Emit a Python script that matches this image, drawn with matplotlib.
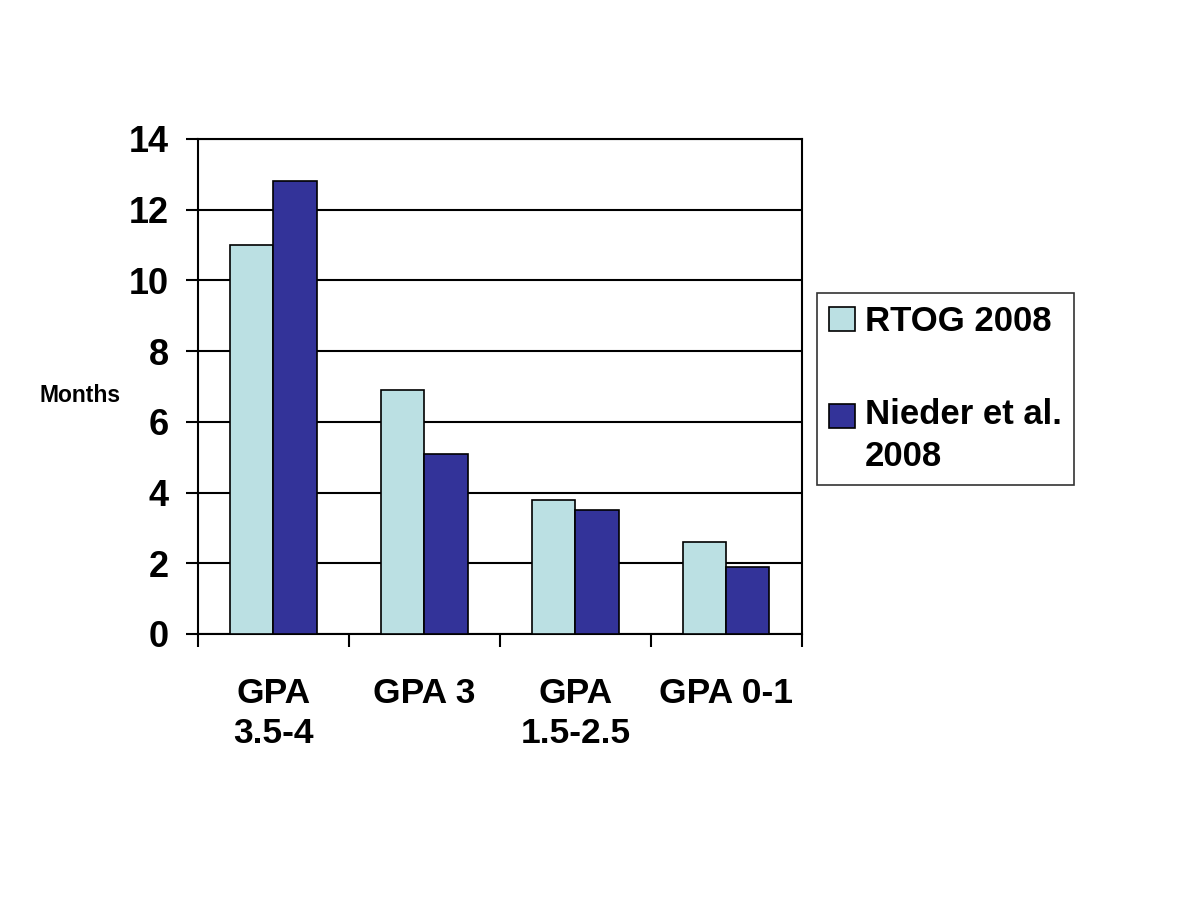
import numpy as np
import matplotlib
matplotlib.use("Agg")
import matplotlib.pyplot as plt
from matplotlib.legend_handler import HandlerPatch
from matplotlib.patches import Rectangle

plt.rcParams['font.family'] = ['Liberation Sans', 'DejaVu Sans']
plt.rcParams['font.weight'] = 'bold'

categories = ['GPA\n3.5-4', 'GPA 3', 'GPA\n1.5-2.5', 'GPA 0-1']
rtog = [11.0, 6.9, 3.8, 2.6]
nieder = [12.8, 5.1, 3.5, 1.9]
series_names = ['RTOG 2008', 'Nieder et al.\n2008']

fig = plt.figure(figsize=(12, 9), dpi=100)
ax = fig.add_axes([0.165, 0.2956, 0.5033, 0.55])

x = np.arange(len(categories))
w = 0.285
b1 = ax.bar(x - w / 2, rtog, w, color='#BBE0E3', edgecolor='black', linewidth=1.2, zorder=3)
b2 = ax.bar(x + w / 2, nieder, w, color='#333399', edgecolor='black', linewidth=1.2, zorder=3)

ax.set_xlim(-0.5, 3.5)
ax.set_ylim(0, 14)
ax.set_yticks(np.arange(0, 15, 2))
ax.yaxis.grid(True, color='black', linewidth=1.5, zorder=0)
ax.set_axisbelow(True)

# category boundaries as major ticks, names as minor ticks
ax.set_xticks(np.arange(-0.5, 4, 1))
ax.set_xticklabels([])
ax.set_xticks(x, minor=True)
ax.set_xticklabels(categories, minor=True, fontsize=25.5, fontweight='bold', linespacing=1.25)
ax.tick_params(axis='x', which='minor', length=0, pad=31)
ax.tick_params(axis='x', which='major', length=9, width=1.5, direction='out')
ax.tick_params(axis='y', length=9, width=1.5, direction='out', pad=12, labelsize=26)
for lab in ax.get_yticklabels():
    lab.set_fontweight('bold')

for s in ax.spines.values():
    s.set_color('black')
    s.set_linewidth(1.5)

fig.text(80 / 1200, 1 - 395 / 900, 'Months', ha='center', va='center', fontsize=16.5, fontweight='bold')


# put the second legend swatch next to the first text line
def top_line_patch(legend, orig_handle, xdescent, ydescent, width, height, fontsize):
    return Rectangle((-xdescent, -ydescent + 0.58 * fontsize), width, height)


leg = fig.legend([b1[0], b2[0]], series_names, loc='upper left',
                 bbox_to_anchor=(817 / 1200, 1 - 293 / 900),
                 handler_map={b2[0]: HandlerPatch(patch_func=top_line_patch)},
                 prop={'size': 25, 'weight': 'bold'}, fancybox=False, frameon=True,
                 edgecolor='black', handlelength=0.75, handleheight=0.7, handletextpad=0.27,
                 labelspacing=1.73, borderpad=0.35, borderaxespad=0)
leg.get_frame().set_linewidth(1.2)
for t in leg.get_texts():
    t.set_linespacing(1.32)

fig.savefig('out.png', dpi=100)
